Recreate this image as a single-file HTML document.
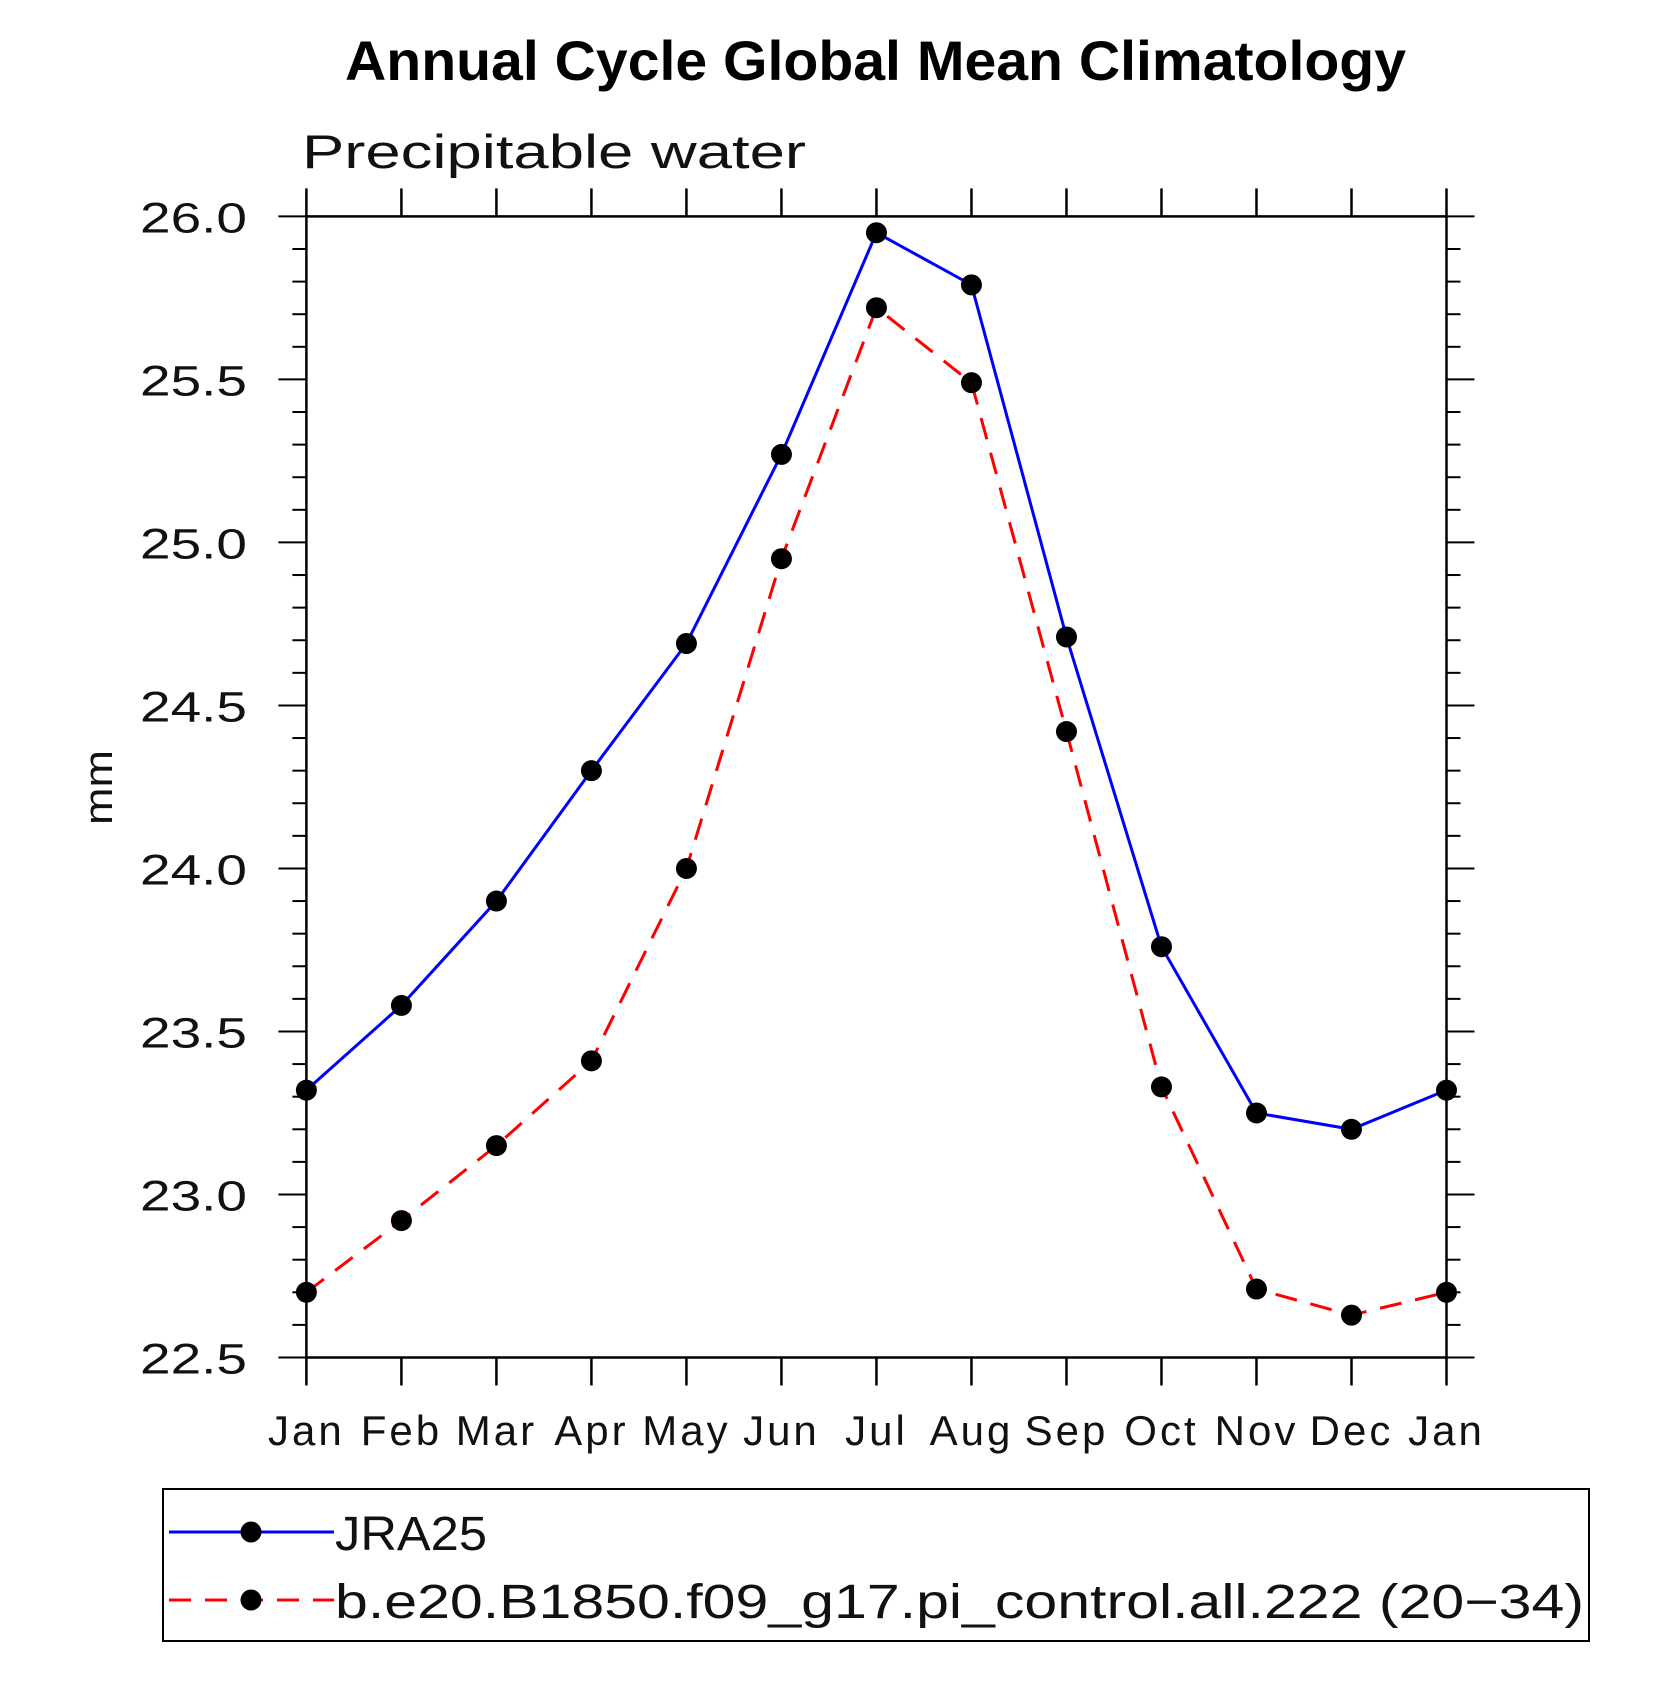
<!DOCTYPE html>
<html><head><meta charset="utf-8"><style>
html,body{margin:0;padding:0;background:#fff;}
svg text{font-family:"Liberation Sans","DejaVu Sans",sans-serif;}
</style></head><body>
<svg id="chart" width="1680" height="1680" viewBox="0 0 1680 1680" xmlns="http://www.w3.org/2000/svg">
<text x="345" y="80" font-size="56" font-weight="bold" textLength="1061" lengthAdjust="spacingAndGlyphs">Annual Cycle Global Mean Climatology</text>
<text x="302" y="168" font-size="47" textLength="504" lengthAdjust="spacingAndGlyphs" fill="#111">Precipitable water</text>
<text transform="translate(112,825) rotate(-90)" font-size="40" textLength="75" lengthAdjust="spacingAndGlyphs" fill="#111">mm</text>
<g id="axes"></g>
<g id="series"></g>
<rect x="163" y="1489" width="1426" height="152" fill="none" stroke="#000" stroke-width="2"/>
<g id="legend"></g>
</svg>
<script>
const months = ["Jan","Feb","Mar","Apr","May","Jun","Jul","Aug","Sep","Oct","Nov","Dec","Jan"];
const yTicks = [22.5,23.0,23.5,24.0,24.5,25.0,25.5,26.0];
const yTickLabels = ["22.5","23.0","23.5","24.0","24.5","25.0","25.5","26.0"];
const jra25 = [23.32,23.58,23.90,24.30,24.69,25.27,25.95,25.79,24.71,23.76,23.25,23.20,23.32];
const model = [22.70,22.92,23.15,23.41,24.00,24.95,25.72,25.49,24.42,23.33,22.71,22.63,22.70];
const seriesNames = ["JRA25","b.e20.B1850.f09_g17.pi_control.all.222 (20\u221234)"];

const L=306.4,R=1446.5,T=216.4,B=1357.5,ymin=22.5,ymax=26.0;
const xs=i=>L+(R-L)*i/(months.length-1);
const ys=v=>B-(B-T)*(v-ymin)/(ymax-ymin);
const NS="http://www.w3.org/2000/svg";
function mk(tag,attrs,parent){const e=document.createElementNS(NS,tag);for(const k in attrs)e.setAttribute(k,attrs[k]);parent.appendChild(e);return e;}
const ax=document.getElementById('axes');
let f=mk('rect',{x:L,y:T,width:R-L,height:B-T,fill:'none',stroke:'#000','stroke-width':2.5},ax);


months.forEach((m,i)=>{
  const x=xs(i);
  mk('line',{x1:x,x2:x,y1:B,y2:B+28,stroke:'#000','stroke-width':2.5},ax);
  mk('line',{x1:x,x2:x,y1:T,y2:T-28,stroke:'#000','stroke-width':2.5},ax);
  const t=mk('text',{x:x,y:1445,'text-anchor':'middle','font-size':42,'letter-spacing':3,fill:'#111'},ax);
  t.textContent=m;
  
  
});
for(let k=0;k<=35;k++){
  const v=ymin+k*0.1,y=ys(v),major=(k%5===0),len=major?28:14;
  mk('line',{x1:L,x2:L-len,y1:y,y2:y,stroke:'#000','stroke-width':2},ax);
  mk('line',{x1:R,x2:R+len,y1:y,y2:y,stroke:'#000','stroke-width':2},ax);
}
yTicks.forEach((v,i)=>{
  const t=mk('text',{x:140,y:ys(v)+16,'font-size':43,textLength:107,lengthAdjust:'spacingAndGlyphs',fill:'#111'},ax);
  t.textContent=yTickLabels[i];
  
  
});
const sg=document.getElementById('series');
function drawSeries(vals,color,dash,name){
  const g=mk('g',{},sg);
  
  
  const pts=vals.map((v,i)=>xs(i)+','+ys(v)).join(' ');
  mk('polyline',{points:pts,fill:'none',stroke:color,'stroke-width':3,'stroke-dasharray':dash},g);
  vals.forEach((v,i)=>{
    const c=mk('circle',{cx:xs(i),cy:ys(v),r:10.5,fill:'#000'},g);
    
    
  });
}
drawSeries(jra25,'#0000ff','none','jra25-series');
drawSeries(model,'#ff0000','22,14','model-series');
const lg=document.getElementById('legend');
const legW=[152,1249];
[[1532,'#0000ff','none'],[1600,'#ff0000','22,14']].forEach((e,i)=>{
  const g=mk('g',{},lg);
  
  
  mk('line',{x1:169,x2:334,y1:e[0],y2:e[0],stroke:e[1],'stroke-width':3,'stroke-dasharray':e[2]},g);
  mk('circle',{cx:251,cy:e[0],r:10.5,fill:'#000'},g);
  const t=mk('text',{x:335,y:e[0]+18,'font-size':48,textLength:legW[i],lengthAdjust:'spacingAndGlyphs',fill:'#111'},g);
  t.textContent=seriesNames[i];
});
</script>
</body></html>
